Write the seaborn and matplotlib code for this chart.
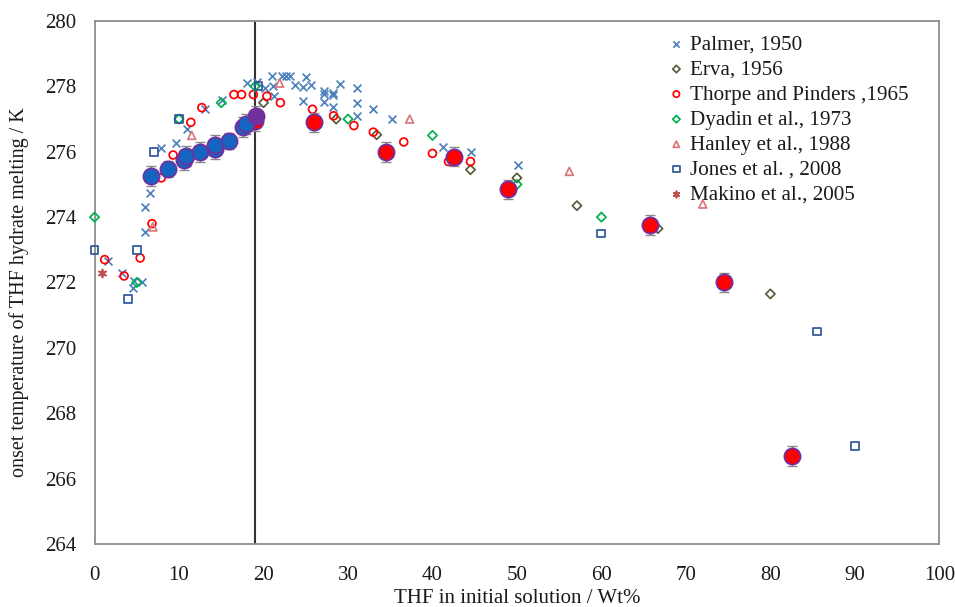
import matplotlib
matplotlib.use("Agg")
import matplotlib.pyplot as plt
import seaborn as sns
import numpy as np

# ---------------- data ----------------
palmer_x = [1.6, 3.3, 4.6, 4.7, 5.6, 6.0, 6.0, 6.6, 7.9, 9.6, 11.0, 13.1, 15.1, 18.1, 19.2,
            20.2, 21.0, 21.1, 21.3, 22.2, 22.7, 23.1, 23.7, 24.7, 24.7, 25.0, 25.6, 27.2, 27.2,
            27.2, 28.2, 28.2, 28.2, 29.1, 31.1, 31.1, 31.1, 33.0, 35.2, 41.2, 44.6, 50.1]
palmer_y = [272.65, 272.3, 271.84, 272.05, 272.02, 273.55, 274.32, 274.75, 276.1, 276.27,
            276.7, 277.3, 277.57, 278.1, 278.13, 277.95, 278.33, 278.0, 277.7, 278.33,
            278.33, 278.33, 278.05, 277.97, 277.55, 278.3, 278.05, 277.87, 277.77, 277.53,
            277.8, 277.73, 277.38, 278.08, 277.95, 277.5, 277.1, 277.3, 277.0, 276.15,
            276.0, 275.6]

erva_x = [20.0, 28.6, 33.4, 44.5, 50.0, 57.1, 66.7, 80.0]
erva_y = [277.5, 277.0, 276.52, 275.45, 275.2, 274.35, 273.65, 271.65]

thorpe_x = [1.2, 3.5, 5.4, 6.8, 7.9, 9.3, 11.4, 12.7, 16.5, 17.4, 18.8, 20.4, 22.0, 25.8,
            28.3, 30.7, 33.0, 36.6, 40.0, 41.9, 44.5]
thorpe_y = [272.7, 272.2, 272.75, 273.8, 275.2, 275.9, 276.9, 277.35, 277.75, 277.75, 277.75,
            277.7, 277.5, 277.3, 277.1, 276.8, 276.6, 276.3, 275.95, 275.7, 275.7]

dyadin_x = [0.0, 5.0, 10.0, 15.0, 19.0, 30.0, 40.0, 50.0, 60.0]
dyadin_y = [274.0, 272.0, 277.0, 277.5, 278.0, 277.0, 276.5, 275.0, 274.0]

hanley_x = [6.9, 11.5, 21.9, 37.3, 56.2, 72.0]
hanley_y = [273.7, 276.5, 278.1, 277.0, 275.4, 274.4]

jones_x = [0.0, 4.0, 5.0, 7.0, 10.0, 19.4, 60.0, 85.5, 90.0]
jones_y = [273.0, 271.5, 273.0, 276.0, 277.0, 278.0, 273.5, 270.5, 267.0]

makino_x = [0.9]
makino_y = [272.3]

meas_blue_x = [6.7, 8.7, 10.6, 10.8, 12.5, 14.2, 14.2, 15.9, 17.6, 17.9]
meas_blue_y = [275.25, 275.47, 275.75, 275.87, 276.0, 276.07, 276.22, 276.32, 276.75, 276.85]
meas_blue_err = [0.3, 0.25, 0.3, 0.3, 0.3, 0.3, 0.3, 0.25, 0.3, 0.3]

meas_purple_x = [19.1]
meas_purple_y = [277.1]
meas_purple_err = [0.3]

meas_red_x = [19.0, 26.0, 34.5, 42.6, 49.0, 65.7, 74.5, 82.6]
meas_red_y = [276.95, 276.9, 276.0, 275.85, 274.85, 273.75, 272.0, 266.7]
meas_red_err = [0.3, 0.3, 0.3, 0.3, 0.3, 0.3, 0.3, 0.3]

x_ticks = [0, 10, 20, 30, 40, 50, 60, 70, 80, 90, 100]
y_ticks = [264, 266, 268, 270, 272, 274, 276, 278, 280]
vline_x = 19.0

# ---------------- style ----------------
sns.set_theme(style="white")
plt.rcParams['font.family'] = ['Liberation Serif', 'DejaVu Serif']

fig = plt.figure(figsize=(9.55, 6.07), dpi=100)
ax = fig.add_axes([0.099, 0.1038, 0.8846, 0.8616])

spine_col = '#8c8c8c'
small_s = 32
lw_small = 1.25

# vertical line
ax.axvline(vline_x, color='#333333', lw=1.5, zorder=1)

series = [
    (palmer_x, palmer_y, 'x', '#4F81BD', False, small_s, 'Palmer, 1950'),
    (erva_x, erva_y, 'D', '#5b5a3e', True, 22, 'Erva, 1956'),
    (thorpe_x, thorpe_y, 'o', '#FF0000', True, small_s, 'Thorpe and Pinders ,1965'),
    (dyadin_x, dyadin_y, 'D', '#00B050', True, 22, 'Dyadin et al., 1973'),
    (hanley_x, hanley_y, '^', '#D9777B', True, small_s, 'Hanley et al., 1988'),
    (jones_x, jones_y, 's', '#2F5597', True, small_s, 'Jones et al. , 2008'),
    (makino_x, makino_y, (6, 2, 0), '#C0504D', False, small_s, 'Makino et al., 2005'),
]
for xs, ys, mk, col, hollow, sz, lab in series:
    if hollow:
        sns.scatterplot(x=xs, y=ys, marker=mk, color=col, facecolor='none', edgecolor=col,
                        s=sz, linewidth=lw_small, ax=ax, label=lab, zorder=3, clip_on=False)
    else:
        sns.scatterplot(x=xs, y=ys, marker=mk, color=col, s=sz, linewidth=lw_small,
                        ax=ax, label=lab, zorder=3, clip_on=False)

# measured data with error bars
for xs, ys, es in [(meas_red_x, meas_red_y, meas_red_err),
                   (meas_blue_x, meas_blue_y, meas_blue_err),
                   (meas_purple_x, meas_purple_y, meas_purple_err)]:
    ax.errorbar(xs, ys, yerr=es, fmt='none', ecolor='#8a8a8a', elinewidth=1.0,
                capsize=3.5, capthick=1.0, zorder=4)

for xs, ys, col in [(meas_red_x, meas_red_y, '#FF0000'),
                    (meas_blue_x, meas_blue_y, '#1565C0'),
                    (meas_purple_x, meas_purple_y, '#7030A0')]:
    sns.scatterplot(x=xs, y=ys, marker='o', color=col, edgecolor='#7030A0',
                    s=135, linewidth=1.3, ax=ax, zorder=5)

# axes
ax.set_xlim(0, 100)
ax.set_ylim(264, 280)
ax.set_xticks(x_ticks)
ax.set_yticks(y_ticks)
ax.set_xticklabels([str(t) for t in x_ticks])
ax.set_yticklabels([str(t) for t in y_ticks])
for sp in ax.spines.values():
    sp.set_visible(True)
    sp.set_color(spine_col)
    sp.set_linewidth(1.3)
ax.tick_params(axis='both', direction='out', length=4, width=1.0, color='#555555',
               labelsize=15, labelcolor='#1a1a1a')
ax.tick_params(axis='x', pad=12)
ax.tick_params(axis='y', pad=9)
ax.grid(False)

ax.set_xlabel('THF in initial solution / Wt%', fontsize=15, color='#1a1a1a', labelpad=3)
ax.set_ylabel('onset temperature of THF hydrate melting / K', fontsize=14.5, color='#1a1a1a')
ax.yaxis.set_label_coords(-0.078, 0.481)

handles, labels = ax.get_legend_handles_labels()
keep = [(h, l) for h, l in zip(handles, labels) if l and not l.startswith('_')]
leg = ax.legend([h for h, _ in keep], [l for _, l in keep], loc='upper right',
                bbox_to_anchor=(0.98, 1.0), frameon=False, fontsize=15.2,
                handletextpad=0.05, labelspacing=0.25, handlelength=1.2,
                borderaxespad=0.25, markerscale=0.8)
for t in leg.get_texts():
    t.set_color('#1a1a1a')

fig.savefig('out.png', dpi=100)
